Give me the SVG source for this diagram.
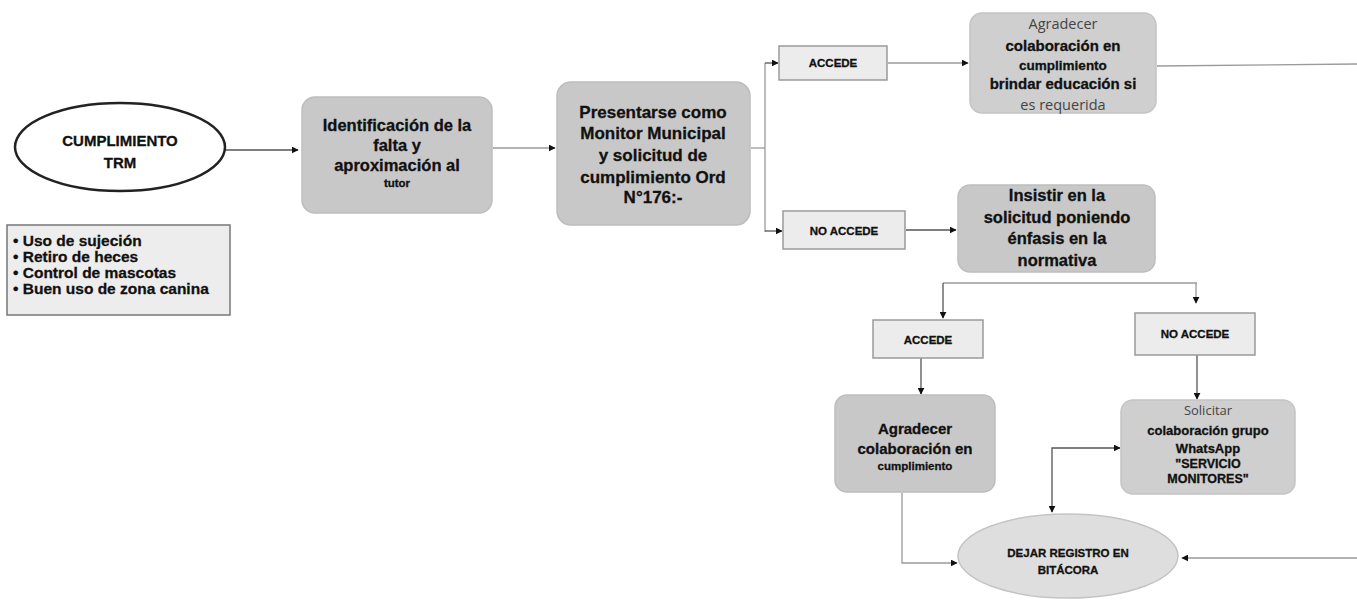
<svg xmlns="http://www.w3.org/2000/svg" width="1357" height="600" viewBox="0 0 1357 600">
<style>
.bg{fill:#ffffff}
.proc{fill:#c8c8c8;stroke:#bdbdbd;stroke-width:1.5}
.proc2{fill:#cfcfcf;stroke:#c4c4c4;stroke-width:1.5}
.lbl{fill:#ececec;stroke:#9a9a9a;stroke-width:1.5}
.t{font-family:"Liberation Sans","Open Sans",sans-serif;font-weight:bold;fill:#111;stroke:#111;stroke-width:0.3;text-anchor:middle}
.tl{font-family:"Open Sans","Liberation Sans",sans-serif;fill:#444;text-anchor:middle}
.conn{fill:none;stroke:#555;stroke-width:1.3}
.connl{fill:none;stroke:#9a9a9a;stroke-width:1.3}
</style>
<defs>
<marker id="arr" viewBox="0 0 10 10" refX="9" refY="5" markerWidth="7" markerHeight="7" markerUnits="userSpaceOnUse" orient="auto-start-reverse">
<path d="M0,0 L10,5 L0,10 z" fill="#111"/>
</marker>
</defs>
<rect class="bg" x="0" y="0" width="1357" height="600"/>

<g id="connectors">
<path class="conn" d="M225,150 L298,150" marker-end="url(#arr)"/>
<path class="connl" d="M493,148 L555,148" marker-end="url(#arr)"/>
<path class="connl" d="M751,148 L765,148"/>
<path class="connl" d="M765,63 L765,232"/>
<path class="conn" d="M765,63 L778,63" marker-end="url(#arr)"/>
<path class="conn" d="M765,231 L782,231" marker-end="url(#arr)"/>
<path class="connl" d="M888,63 L968,63" marker-end="url(#arr)"/>
<path class="connl" d="M1157,66 L1357,64"/>
<path class="conn" d="M906,230 L956,230" marker-end="url(#arr)"/>
<path class="connl" d="M943,283 L1197,283"/>
<path class="conn" d="M943,283 L943,318" marker-end="url(#arr)"/>
<path class="connl" d="M1196,283 L1196,303" marker-end="url(#arr)"/>
<path class="conn" d="M921,358 L921,394" marker-end="url(#arr)"/>
<path class="conn" d="M1197,355 L1197,399" marker-end="url(#arr)"/>
<path class="conn" d="M1120,448 L1052,448 L1052,512" marker-start="url(#arr)" marker-end="url(#arr)"/>
<path class="connl" d="M902,493 L902,563 L957,563" marker-end="url(#arr)"/>
<path class="connl" d="M1357,558 L1182,558" marker-end="url(#arr)"/>
</g>

<g id="cumplimiento">
<ellipse cx="120" cy="147" rx="105" ry="44" fill="#fff" stroke="#222" stroke-width="2.5"/>
<text class="t" x="120" y="146" font-size="15">CUMPLIMIENTO</text>
<text class="t" x="120" y="168" font-size="15">TRM</text>
</g>

<g id="lista">
<rect x="7" y="225" width="223" height="90" fill="#ededed" stroke="#777" stroke-width="1.5"/>
<text font-family="Liberation Sans, sans-serif" font-weight="bold" font-size="15.5" fill="#111" stroke="#111" stroke-width="0.3">
<tspan x="13" y="246">• Uso de sujeción</tspan>
<tspan x="13" y="262">• Retiro de heces</tspan>
<tspan x="13" y="278">• Control de mascotas</tspan>
<tspan x="13" y="294">• Buen uso de zona canina</tspan>
</text>
</g>

<g id="identificacion">
<rect class="proc" x="302" y="97" width="190" height="116" rx="13"/>
<text class="t" x="397" y="131" font-size="16.5">Identificación de la</text>
<text class="t" x="397" y="151" font-size="16.5">falta y</text>
<text class="t" x="397" y="171" font-size="16.5">aproximación al</text>
<text class="t" x="397" y="187" font-size="11.5">tutor</text>
</g>

<g id="presentarse">
<rect class="proc" x="557" y="82" width="193" height="143" rx="14"/>
<text class="t" x="653" y="118" font-size="17">Presentarse como</text>
<text class="t" x="653" y="139" font-size="17">Monitor Municipal</text>
<text class="t" x="653" y="161" font-size="17">y solicitud de</text>
<text class="t" x="653" y="183" font-size="17">cumplimiento Ord</text>
<text class="t" x="653" y="203" font-size="17">N°176:-</text>
</g>

<g id="accede1">
<rect class="lbl" x="779" y="46" width="108" height="34"/>
<text class="t" x="833" y="67" font-size="11.5">ACCEDE</text>
</g>

<g id="agradecer1">
<rect class="proc2" x="970" y="13" width="186" height="100" rx="12"/>
<text class="tl" x="1063" y="29" font-size="14.5">Agradecer</text>
<text class="t" x="1063" y="51" font-size="15">colaboración en</text>
<text class="t" x="1063" y="70" font-size="13.5">cumplimiento</text>
<text class="t" x="1063" y="89" font-size="15">brindar educación si</text>
<text class="tl" x="1063" y="110" font-size="14.5">es requerida</text>
</g>

<g id="noaccede1">
<rect class="lbl" x="783" y="211" width="122" height="38"/>
<text class="t" x="844" y="235" font-size="11.5">NO ACCEDE</text>
</g>

<g id="insistir">
<rect class="proc" x="958" y="185" width="197" height="87" rx="12"/>
<text class="t" x="1057" y="201" font-size="16.5">Insistir en la</text>
<text class="t" x="1057" y="223" font-size="16.5">solicitud poniendo</text>
<text class="t" x="1057" y="244" font-size="16.5">énfasis en la</text>
<text class="t" x="1057" y="266" font-size="16.5">normativa</text>
</g>

<g id="accede2">
<rect class="lbl" x="873" y="320" width="110" height="38"/>
<text class="t" x="928" y="344" font-size="11.5">ACCEDE</text>
</g>

<g id="noaccede2">
<rect class="lbl" x="1135" y="313" width="120" height="42" stroke="#666"/>
<text class="t" x="1195" y="338" font-size="11.5">NO ACCEDE</text>
</g>

<g id="agradecer2">
<rect class="proc" x="835" y="395" width="160" height="97" rx="12"/>
<text class="t" x="915" y="434" font-size="15">Agradecer</text>
<text class="t" x="915" y="454" font-size="15">colaboración en</text>
<text class="t" x="915" y="470" font-size="11.5">cumplimiento</text>
</g>

<g id="solicitar">
<rect class="proc2" x="1121" y="400" width="174" height="94" rx="12"/>
<text class="tl" x="1208" y="415" font-size="13">Solicitar</text>
<text class="t" x="1208" y="435" font-size="13">colaboración grupo</text>
<text class="t" x="1208" y="453" font-size="13">WhatsApp</text>
<text class="t" x="1208" y="468" font-size="12.5">"SERVICIO</text>
<text class="t" x="1208" y="483" font-size="12.5">MONITORES"</text>
</g>

<g id="dejar">
<ellipse cx="1068" cy="556" rx="110" ry="42" fill="#dedede" stroke="#c4c4c4" stroke-width="1.5"/>
<text class="t" x="1068" y="557" font-size="11.5">DEJAR REGISTRO EN</text>
<text class="t" x="1068" y="574" font-size="11.5">BITÁCORA</text>
</g>
</svg>
